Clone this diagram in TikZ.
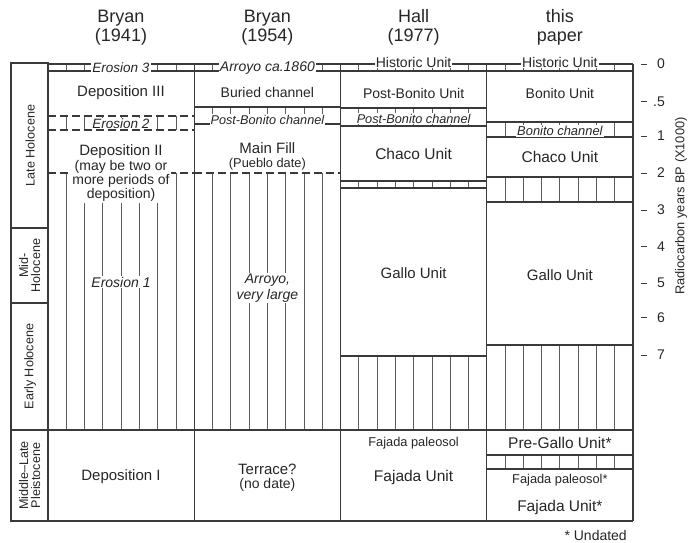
\documentclass[tikz,border=0pt]{standalone}
\usepackage{fontspec}
\setmainfont{Liberation Sans}
\definecolor{linegray}{HTML}{3A3A3A}
\definecolor{hatchgray}{HTML}{5C5C5C}
\definecolor{inkgray}{HTML}{262626}
\newcommand{\pxfont}[2]{\fontsize{#1}{#2}\selectfont}
\newcommand{\hatchstep}{18.28}
\newcommand{\hatchband}[3]{%
  \foreach \k in {1,...,7}
    \draw[hatch] ({#1+\k*\hatchstep},#2) -- ({#1+\k*\hatchstep},#3);}

\begin{document}
\begin{tikzpicture}[x=1pt,y=-1pt,
    rule/.style={draw=linegray,line width=1.3pt},
    hatch/.style={draw=hatchgray,line width=0.8pt},
    cutline/.style={rule,dash pattern=on 8pt off 4pt},
    lbl/.style={text=inkgray,inner sep=1pt},
    bandlbl/.style={lbl,fill=white}]
\useasboundingbox (0,0) rectangle (688,542);

% column heads
\node[lbl,align=center,font=\pxfont{18}{19}] (head1) at (121,27.5) {Bryan\\(1941)};
\node[lbl,align=center,font=\pxfont{18}{19}] (head2) at (267.4,27.5) {Bryan\\(1954)};
\node[lbl,align=center,font=\pxfont{18}{19}] (head3) at (413.6,27.5) {Hall\\(1977)};
\node[lbl,align=center,font=\pxfont{18}{19}] (head4) at (559.9,27.5) {this\\paper};

% hatching
\hatchband{48}{64}{71}
\hatchband{48}{116}{130}
\hatchband{48}{173}{430}
\hatchband{194.25}{64}{71}
\hatchband{194.25}{107}{124}
\hatchband{194.25}{173}{430}
\hatchband{340.5}{64}{71}
\hatchband{340.5}{108}{126}
\hatchband{340.5}{181}{188}
\hatchband{340.5}{356}{430}
\hatchband{486.75}{64}{71}
\hatchband{486.75}{122}{137}
\hatchband{486.75}{177}{202}
\hatchband{486.75}{345}{430}
\hatchband{486.75}{455}{469}

% unit boundaries
\foreach \y in {64,71,430} \draw[rule] (48,\y) -- (194.25,\y);
\foreach \y in {116,130,173} \draw[cutline] (48,\y) -- (194.25,\y);
\foreach \y in {64,71,107,124,430} \draw[rule] (194.25,\y) -- (340.5,\y);
\draw[cutline] (194.25,173) -- (340.5,173);
\foreach \y in {64,71,108,126,181,188,356,430} \draw[rule] (340.5,\y) -- (486.75,\y);
\foreach \y in {64,71,122,137,177,202,345,430,455,469} \draw[rule] (486.75,\y) -- (633,\y);

% Bryan 1941
\node[bandlbl,font=\pxfont{13.5}{14}\itshape] (ero3) at (121,67.5) {Erosion 3};
\node[lbl,font=\pxfont{15}{16}] (dep3) at (121,93) {Deposition III};
\node[bandlbl,font=\pxfont{13.5}{14}\itshape] (ero2) at (121,123.5) {Erosion 2};
\node[lbl,font=\pxfont{15}{16}] (dep2) at (121,152) {Deposition II};
\node[bandlbl,align=center,font=\pxfont{14}{12.6}] (dep2note) at (121,181) {(may be two or\\more periods of\\deposition)};
\node[bandlbl,font=\pxfont{14}{14}\itshape] (ero1) at (121,282) {Erosion 1};
\node[lbl,font=\pxfont{15}{16}] (dep1) at (121,477) {Deposition I};

% Bryan 1954
\node[bandlbl,font=\pxfont{14}{14}\itshape] (arroyo1860) at (267.4,68.5) {Arroyo ca.1860};
\node[lbl,font=\pxfont{14}{14}] (buried) at (267.4,92) {Buried channel};
\node[bandlbl,font=\pxfont{12.7}{13}\itshape] (pbchan2) at (267.4,120) {Post-Bonito channel};
\node[lbl,font=\pxfont{15}{16}] (mainfill) at (267.4,148.5) {Main Fill};
\node[lbl,font=\pxfont{12.8}{13},inner sep=0pt] (pueblo) at (267.4,164) {(Pueblo date)};
\node[bandlbl,align=center,font=\pxfont{14}{16}\itshape] (arroyo) at (267.4,288) {Arroyo,\\very large};
\node[lbl,font=\pxfont{15}{16}] (terrace) at (267.4,469) {Terrace?};
\node[lbl,font=\pxfont{14}{14}] (nodate) at (267.4,485) {(no date)};

% Hall 1977
\node[bandlbl,font=\pxfont{14}{14}] (hist3) at (413.6,62) {Historic Unit};
\node[lbl,font=\pxfont{14}{14}] (postbonito) at (413.6,93) {Post-Bonito Unit};
\node[bandlbl,font=\pxfont{12.7}{13}\itshape] (pbchan3) at (413.6,118.5) {Post-Bonito channel};
\node[lbl,font=\pxfont{15.5}{16}] (chaco3) at (413.6,154) {Chaco Unit};
\node[lbl,font=\pxfont{15}{16}] (gallo3) at (413.6,273) {Gallo Unit};
\node[lbl,font=\pxfont{12.8}{13}] (paleosol3) at (413.6,443) {Fajada paleosol};
\node[lbl,font=\pxfont{15.5}{16}] (fajada3) at (413.6,477) {Fajada Unit};

% this paper
\node[bandlbl,font=\pxfont{14}{14}] (hist4) at (559.9,62) {Historic Unit};
\node[lbl,font=\pxfont{14}{14}] (bonito) at (559.9,93) {Bonito Unit};
\node[bandlbl,font=\pxfont{12.9}{13}\itshape] (bchan4) at (559.9,131) {Bonito channel};
\node[lbl,font=\pxfont{15.5}{16}] (chaco4) at (559.9,157) {Chaco Unit};
\node[lbl,font=\pxfont{15}{16}] (gallo4) at (559.9,275) {Gallo Unit};
\node[lbl,font=\pxfont{15.5}{16}] (pregallo) at (559.9,443) {Pre-Gallo Unit*};
\node[lbl,font=\pxfont{12.8}{13}] (paleosol4) at (559.9,480.5) {Fajada paleosol*};
\node[lbl,font=\pxfont{15.5}{16}] (fajada4) at (559.9,507) {Fajada Unit*};

% epochs
\draw[rule] (11,63) rectangle (48,521);
\foreach \y in {228,303,430} \draw[rule] (11,\y) -- (48,\y);
\node[lbl,rotate=90,font=\pxfont{12.6}{13}] (late) at (30,145.5) {Late Holocene};
\node[lbl,rotate=90,align=center,font=\pxfont{12.6}{12}] (mid) at (29.5,265.5) {Mid-\\Holocene};
\node[lbl,rotate=90,font=\pxfont{12.6}{13}] (early) at (30,366.5) {Early Holocene};
\node[lbl,rotate=90,align=center,font=\pxfont{12.6}{12}] (pleist) at (29.5,475.5) {Middle--Late\\Pleistocene};

% column frames
\foreach \x in {194.25,340.5,486.75,633} \draw[rule] (\x,64) -- (\x,521);
\draw[rule] (48,521) -- (633,521);

% age scale
\foreach \t/\y [count=\i] in {0/64,.5/101.5,1/136,2/173,3/210,4/246.5,5/283,6/317.5,7/355} {
  \draw[rule,line width=1pt] (641,\y) -- (647,\y);
  \node[lbl,anchor=east,font=\pxfont{14}{14}] (tick\i) at (666,\y) {\t};}
\node[lbl,rotate=90,font=\pxfont{12.8}{13}] (axis) at (681,206) {Radiocarbon years BP (X1000)};
\node[lbl,anchor=east,font=\pxfont{14}{14}] (undated) at (628,535) {* Undated};
\end{tikzpicture}
\end{document}
